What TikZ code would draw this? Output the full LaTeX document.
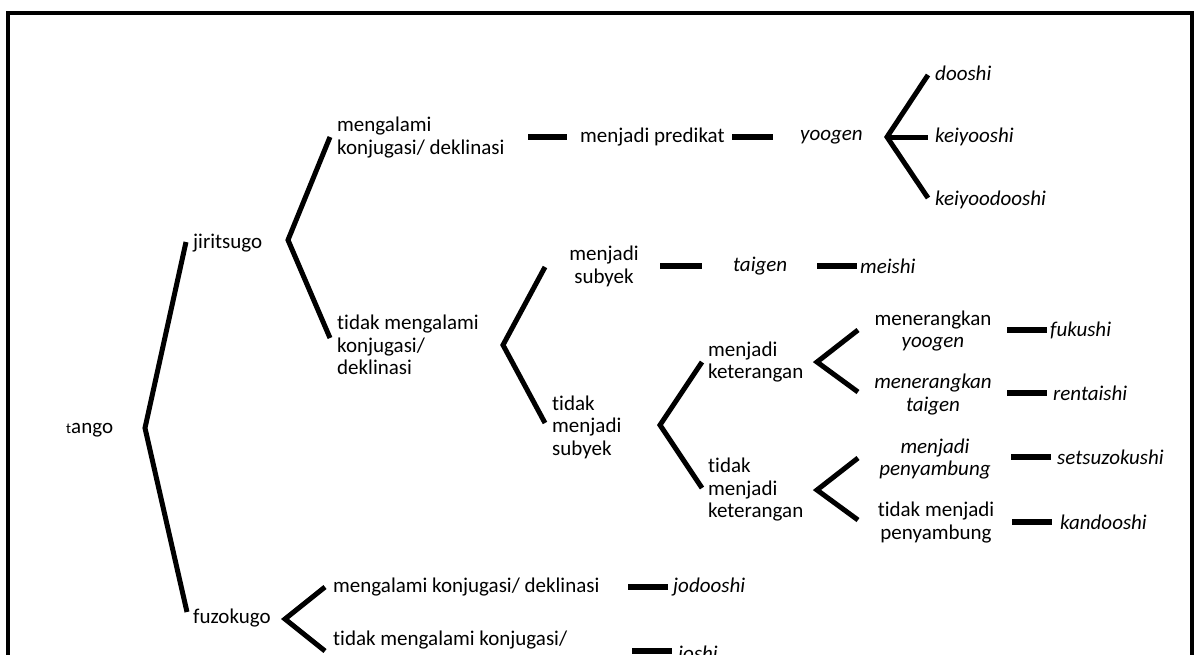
\documentclass[tikz,border=0pt]{standalone}
\usepackage{fontspec}
\setmainfont{Carlito}[Ligatures={NoCommon}]
\begin{document}
\begin{tikzpicture}[x=1pt,y=-1pt,
  lbl/.style={inner sep=0pt, font=\fontsize{21}{22.5}\selectfont},
  lt/.style={lbl, anchor=west, align=left},
  ct/.style={lbl, anchor=center, align=center},
  it/.style={font=\fontsize{21}{22.5}\selectfont\itshape},
  brace/.style={line width=5pt, line join=miter, miter limit=20},
  bar/.style={line width=5.5pt},
  frame/.style={line width=4pt}]
\useasboundingbox (0,0) rectangle (1199,654);
\clip (0,0) rectangle (1199,654);
\fill[white] (0,0) rectangle (1199,654);
\draw[frame] (8,13) rectangle (1191.5,720);

% ---- text nodes
\node[lt] (tango) at (66,430) {{\fontsize{15}{15}\selectfont t}ango};
\node[lt] (jiri) at (193,243) {jiritsugo};
\node[lt] (fuzo) at (193,618) {fuzokugo};
\node[lt] (mk) at (337,137.5) {mengalami\\konjugasi/ deklinasi};
\node[lt] (tmk) at (337,345) {tidak mengalami\\konjugasi/\\deklinasi};
\node[lt] (mp) at (580,137) {menjadi predikat};
\node[lt,it] (yoogen) at (800,137) {yoogen};
\node[lt,it] (dooshi) at (935,73) {dooshi};
\node[lt,it] (keiyooshi) at (935,137) {keiyooshi};
\node[lt,it] (keiyoodooshi) at (935,200) {keiyoodooshi};
\node[ct] (ms) at (604,266.5) {menjadi\\subyek};
\node[lt,it] (taigen) at (733,266) {taigen};
\node[lt,it] (meishi) at (860,266) {meishi};
\node[lt] (tms) at (552,427) {tidak\\menjadi\\subyek};
\node[lt] (mket) at (708,362) {menjadi\\keterangan};
\node[lt] (tmket) at (708,490) {tidak\\menjadi\\keterangan};
\node[ct] (mny) at (933,331) {menerangkan\\\textit{yoogen}};
\node[ct,it] (mnt) at (933,394.5) {menerangkan\\taigen};
\node[lt,it] (fukushi) at (1050,330) {fukushi};
\node[lt,it] (rentaishi) at (1053,393) {rentaishi};
\node[ct,it] (mpy) at (935,459) {menjadi\\penyambung};
\node[lt,it] (setsu) at (1057,457) {setsuzokushi};
\node[ct] (tmpy) at (936,522.5) {tidak menjadi\\penyambung};
\node[lt,it] (kando) at (1060,522) {kandooshi};
\node[lt] (mk2) at (333,587) {mengalami konjugasi/ deklinasi};
\node[lt, font=\fontsize{21}{27}\selectfont] (tmk2) at (333,651.5) {tidak mengalami konjugasi/\\deklinasi};
\node[lt,it] (jodo) at (673,587) {jodooshi};
\node[lt,it] (joshi) at (678,655) {joshi};

% ---- bracket coordinates
\coordinate (tangoV) at (145,428);
\coordinate (tangoT) at (186,242);
\coordinate (tangoB) at (187,612);
\coordinate (jiriV) at (288,240);
\coordinate (jiriT) at (330,137);
\coordinate (jiriB) at (330,338);
\coordinate (yooV) at (887,137);
\coordinate (yooT) at (928,75);
\coordinate (yooM) at (928,137);
\coordinate (yooB) at (928,198);
\coordinate (tmkV) at (503,345);
\coordinate (tmkT) at (545,267);
\coordinate (tmkB) at (545,423);
\coordinate (tmsV) at (660,425);
\coordinate (tmsT) at (702,362);
\coordinate (tmsB) at (702,488);
\coordinate (mketV) at (817,362);
\coordinate (mketT) at (858,330);
\coordinate (mketB) at (858,392);
\coordinate (tmketV) at (817,490);
\coordinate (tmketT) at (858,458);
\coordinate (tmketB) at (858,520);
\coordinate (fuzoV) at (285,619);
\coordinate (fuzoT) at (325,587);
\coordinate (fuzoB) at (325,651);

\draw[brace] (tangoT) -- (tangoV) -- (tangoB);
\draw[brace] (jiriT) -- (jiriV) -- (jiriB);
\draw[brace] (yooT) -- (yooV) -- (yooB);
\draw[brace] (yooV) -- (yooM);
\draw[brace] (tmkT) -- (tmkV) -- (tmkB);
\draw[brace] (tmsT) -- (tmsV) -- (tmsB);
\draw[brace] (mketT) -- (mketV) -- (mketB);
\draw[brace] (tmketT) -- (tmketV) -- (tmketB);
\draw[brace] (fuzoT) -- (fuzoV) -- (fuzoB);

% ---- bar coordinates
\coordinate (b1a) at (528,137);   \coordinate (b1b) at (567,137);
\coordinate (b2a) at (732,137);   \coordinate (b2b) at (773,137);
\coordinate (b3a) at (660,266);   \coordinate (b3b) at (702,266);
\coordinate (b4a) at (817,266);   \coordinate (b4b) at (857,266);
\coordinate (b5a) at (1007,330);  \coordinate (b5b) at (1047,330);
\coordinate (b6a) at (1007,393);  \coordinate (b6b) at (1047,393);
\coordinate (b7a) at (1011,457);  \coordinate (b7b) at (1051,457);
\coordinate (b8a) at (1012,522);  \coordinate (b8b) at (1052,522);
\coordinate (b9a) at (628,587);   \coordinate (b9b) at (668,587);
\coordinate (b10a) at (632,651);  \coordinate (b10b) at (672,651);

\foreach \i in {1,...,10} {\draw[bar] (b\i a) -- (b\i b);}
\end{tikzpicture}
\end{document}
